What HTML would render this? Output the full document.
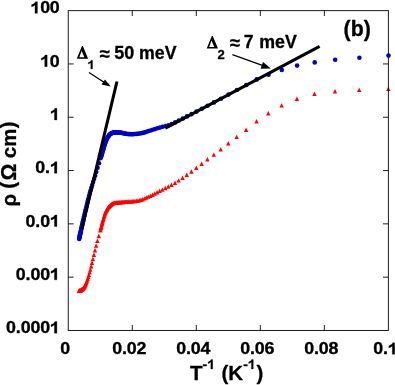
<!DOCTYPE html>
<html><head><meta charset="utf-8"><title>chart</title>
<style>
html,body{margin:0;padding:0;background:#fff;}
body{width:395px;height:385px;overflow:hidden;}
svg{display:block;will-change:transform;font-family:"Liberation Sans",sans-serif;font-weight:bold;fill:#000;}
text{stroke:#000;stroke-width:0.3px;stroke-linejoin:round;}
</style></head><body>
<svg width="395" height="385" viewBox="0 0 395 385">
<rect x="0" y="0" width="395" height="385" fill="#fff"/>
<g fill="#0000cc">
<circle cx="79.2" cy="239.0" r="2.3"/>
<circle cx="79.3" cy="238.1" r="2.3"/>
<circle cx="79.5" cy="237.2" r="2.3"/>
<circle cx="79.7" cy="236.3" r="2.3"/>
<circle cx="79.9" cy="235.3" r="2.3"/>
<circle cx="80.1" cy="234.3" r="2.3"/>
<circle cx="80.4" cy="233.3" r="2.3"/>
<circle cx="80.6" cy="232.2" r="2.3"/>
<circle cx="80.8" cy="231.2" r="2.3"/>
<circle cx="81.0" cy="230.1" r="2.3"/>
<circle cx="81.3" cy="228.9" r="2.3"/>
<circle cx="81.6" cy="227.8" r="2.3"/>
<circle cx="81.8" cy="226.6" r="2.3"/>
<circle cx="82.1" cy="225.3" r="2.3"/>
<circle cx="82.4" cy="224.0" r="2.3"/>
<circle cx="82.7" cy="222.6" r="2.3"/>
<circle cx="83.0" cy="221.2" r="2.3"/>
<circle cx="83.4" cy="219.7" r="2.3"/>
<circle cx="83.7" cy="218.1" r="2.3"/>
<circle cx="84.1" cy="216.5" r="2.3"/>
<circle cx="84.5" cy="214.8" r="2.3"/>
<circle cx="84.9" cy="213.0" r="2.3"/>
<circle cx="85.3" cy="211.2" r="2.3"/>
<circle cx="85.8" cy="209.2" r="2.3"/>
<circle cx="86.3" cy="207.2" r="2.3"/>
<circle cx="86.8" cy="205.1" r="2.3"/>
<circle cx="87.3" cy="202.9" r="2.3"/>
<circle cx="87.9" cy="200.6" r="2.3"/>
<circle cx="88.5" cy="198.2" r="2.3"/>
<circle cx="89.1" cy="195.7" r="2.3"/>
<circle cx="89.8" cy="193.1" r="2.3"/>
<circle cx="90.6" cy="190.5" r="2.3"/>
<circle cx="91.4" cy="187.7" r="2.3"/>
<circle cx="92.2" cy="185.0" r="2.3"/>
<circle cx="93.1" cy="182.1" r="2.3"/>
<circle cx="94.1" cy="179.1" r="2.3"/>
<circle cx="95.2" cy="175.8" r="2.3"/>
<circle cx="96.3" cy="172.0" r="2.3"/>
<circle cx="97.6" cy="167.8" r="2.3"/>
<circle cx="99.0" cy="163.2" r="2.3"/>
<circle cx="100.5" cy="158.3" r="2.3"/>
<circle cx="100.8" cy="157.3" r="2.3"/>
<circle cx="101.2" cy="156.3" r="2.3"/>
<circle cx="101.5" cy="155.2" r="2.3"/>
<circle cx="101.8" cy="154.2" r="2.3"/>
<circle cx="102.2" cy="153.1" r="2.3"/>
<circle cx="102.5" cy="152.0" r="2.3"/>
<circle cx="102.9" cy="150.8" r="2.3"/>
<circle cx="103.3" cy="149.5" r="2.3"/>
<circle cx="103.7" cy="148.1" r="2.3"/>
<circle cx="104.1" cy="146.7" r="2.3"/>
<circle cx="104.5" cy="145.3" r="2.3"/>
<circle cx="104.9" cy="144.0" r="2.3"/>
<circle cx="105.3" cy="142.8" r="2.3"/>
<circle cx="105.7" cy="141.7" r="2.3"/>
<circle cx="106.1" cy="140.6" r="2.3"/>
<circle cx="106.6" cy="139.5" r="2.3"/>
<circle cx="107.1" cy="138.6" r="2.3"/>
<circle cx="107.5" cy="137.7" r="2.3"/>
<circle cx="108.0" cy="136.9" r="2.3"/>
<circle cx="108.5" cy="136.2" r="2.3"/>
<circle cx="109.0" cy="135.4" r="2.3"/>
<circle cx="109.5" cy="134.7" r="2.3"/>
<circle cx="110.1" cy="134.2" r="2.3"/>
<circle cx="110.6" cy="133.8" r="2.3"/>
<circle cx="111.2" cy="133.5" r="2.3"/>
<circle cx="111.7" cy="133.2" r="2.3"/>
<circle cx="112.3" cy="132.9" r="2.3"/>
<circle cx="112.9" cy="132.7" r="2.3"/>
<circle cx="113.6" cy="132.5" r="2.3"/>
<circle cx="114.2" cy="132.4" r="2.3"/>
<circle cx="114.9" cy="132.4" r="2.3"/>
<circle cx="115.6" cy="132.4" r="2.3"/>
<circle cx="116.3" cy="132.4" r="2.3"/>
<circle cx="117.0" cy="132.4" r="2.3"/>
<circle cx="117.7" cy="132.5" r="2.3"/>
<circle cx="118.5" cy="132.5" r="2.3"/>
<circle cx="119.3" cy="132.6" r="2.3"/>
<circle cx="120.1" cy="132.6" r="2.3"/>
<circle cx="121.0" cy="132.7" r="2.3"/>
<circle cx="121.8" cy="132.9" r="2.3"/>
<circle cx="122.7" cy="133.1" r="2.3"/>
<circle cx="123.7" cy="133.3" r="2.3"/>
<circle cx="124.6" cy="133.6" r="2.3"/>
<circle cx="125.6" cy="133.8" r="2.3"/>
<circle cx="126.7" cy="133.9" r="2.3"/>
<circle cx="127.8" cy="134.0" r="2.3"/>
<circle cx="128.9" cy="134.1" r="2.3"/>
<circle cx="130.0" cy="134.1" r="2.3"/>
<circle cx="131.2" cy="134.2" r="2.3"/>
<circle cx="132.5" cy="134.2" r="2.3"/>
<circle cx="133.8" cy="134.1" r="2.3"/>
<circle cx="135.2" cy="134.0" r="2.3"/>
<circle cx="136.6" cy="133.9" r="2.3"/>
<circle cx="138.1" cy="133.7" r="2.3"/>
<circle cx="139.6" cy="133.5" r="2.3"/>
<circle cx="141.2" cy="133.2" r="2.3"/>
<circle cx="142.9" cy="132.9" r="2.3"/>
<circle cx="144.7" cy="132.4" r="2.3"/>
<circle cx="146.5" cy="131.8" r="2.3"/>
<circle cx="148.5" cy="131.1" r="2.3"/>
<circle cx="150.6" cy="130.5" r="2.3"/>
<circle cx="152.7" cy="129.8" r="2.3"/>
<circle cx="155.0" cy="129.1" r="2.3"/>
<circle cx="157.4" cy="128.3" r="2.3"/>
<circle cx="159.9" cy="127.6" r="2.3"/>
<circle cx="162.6" cy="126.8" r="2.3"/>
<circle cx="165.5" cy="126.1" r="2.3"/>
<circle cx="168.5" cy="125.3" r="2.3"/>
<circle cx="171.7" cy="124.1" r="2.3"/>
<circle cx="175.2" cy="122.4" r="2.3"/>
<circle cx="178.8" cy="120.5" r="2.3"/>
<circle cx="182.8" cy="118.5" r="2.3"/>
<circle cx="187.0" cy="116.4" r="2.3"/>
<circle cx="191.6" cy="114.1" r="2.3"/>
<circle cx="196.5" cy="111.6" r="2.3"/>
<circle cx="201.8" cy="108.8" r="2.3"/>
<circle cx="207.6" cy="105.8" r="2.3"/>
<circle cx="214.0" cy="102.4" r="2.3"/>
<circle cx="220.9" cy="98.7" r="2.3"/>
<circle cx="228.5" cy="94.6" r="2.3"/>
<circle cx="236.9" cy="90.0" r="2.3"/>
<circle cx="246.3" cy="85.0" r="2.3"/>
<circle cx="256.7" cy="79.4" r="2.3"/>
<circle cx="268.5" cy="74.7" r="2.3"/>
<circle cx="281.8" cy="70.0" r="2.3"/>
<circle cx="297.1" cy="65.6" r="2.3"/>
<circle cx="314.7" cy="62.4" r="2.3"/>
<circle cx="335.2" cy="59.7" r="2.3"/>
<circle cx="359.4" cy="57.7" r="2.3"/>
<circle cx="388.5" cy="55.6" r="2.3"/>
</g>
<g fill="#ff0000">
<path d="M79.0 288.5L81.2 292.9H76.8Z"/>
<path d="M79.1 288.5L81.3 292.9H76.9Z"/>
<path d="M79.3 288.4L81.5 292.9H77.1Z"/>
<path d="M79.5 288.4L81.7 292.8H77.3Z"/>
<path d="M79.7 288.3L81.9 292.8H77.5Z"/>
<path d="M79.9 288.3L82.1 292.7H77.7Z"/>
<path d="M80.2 288.2L82.4 292.7H78.0Z"/>
<path d="M80.4 288.1L82.6 292.6H78.2Z"/>
<path d="M80.6 288.0L82.8 292.4H78.4Z"/>
<path d="M80.8 287.9L83.0 292.3H78.6Z"/>
<path d="M81.1 287.7L83.3 292.2H78.9Z"/>
<path d="M81.4 287.6L83.6 292.0H79.2Z"/>
<path d="M81.6 287.4L83.8 291.8H79.4Z"/>
<path d="M81.9 287.2L84.1 291.6H79.7Z"/>
<path d="M82.2 287.0L84.4 291.4H80.0Z"/>
<path d="M82.5 286.7L84.7 291.2H80.3Z"/>
<path d="M82.8 286.5L85.0 290.9H80.6Z"/>
<path d="M83.2 286.2L85.4 290.6H81.0Z"/>
<path d="M83.5 285.9L85.7 290.3H81.3Z"/>
<path d="M83.9 285.4L86.1 289.8H81.7Z"/>
<path d="M84.3 284.8L86.5 289.2H82.1Z"/>
<path d="M84.7 284.0L86.9 288.4H82.5Z"/>
<path d="M85.1 283.1L87.3 287.5H82.9Z"/>
<path d="M85.6 282.1L87.8 286.5H83.4Z"/>
<path d="M86.1 281.0L88.3 285.5H83.9Z"/>
<path d="M86.6 279.8L88.8 284.3H84.4Z"/>
<path d="M87.1 278.4L89.3 282.8H84.9Z"/>
<path d="M87.7 276.8L89.9 281.2H85.5Z"/>
<path d="M88.3 274.9L90.5 279.3H86.1Z"/>
<path d="M88.9 272.7L91.1 277.1H86.7Z"/>
<path d="M89.6 270.1L91.8 274.5H87.4Z"/>
<path d="M90.4 267.2L92.6 271.7H88.2Z"/>
<path d="M91.2 264.1L93.4 268.5H89.0Z"/>
<path d="M92.0 260.5L94.2 265.0H89.8Z"/>
<path d="M92.9 256.7L95.1 261.2H90.7Z"/>
<path d="M93.9 252.6L96.1 257.0H91.7Z"/>
<path d="M95.0 248.1L97.2 252.6H92.8Z"/>
<path d="M96.1 243.4L98.3 247.8H93.9Z"/>
<path d="M97.4 238.5L99.6 243.0H95.2Z"/>
<path d="M98.8 233.7L101.0 238.2H96.6Z"/>
<path d="M100.3 228.1L102.5 232.6H98.1Z"/>
<path d="M100.6 226.9L102.8 231.4H98.4Z"/>
<path d="M101.0 225.7L103.2 230.1H98.8Z"/>
<path d="M101.3 224.4L103.5 228.9H99.1Z"/>
<path d="M101.6 223.1L103.8 227.6H99.4Z"/>
<path d="M102.0 221.8L104.2 226.3H99.8Z"/>
<path d="M102.3 220.5L104.5 224.9H100.1Z"/>
<path d="M102.7 219.1L104.9 223.5H100.5Z"/>
<path d="M103.1 217.6L105.3 222.1H100.9Z"/>
<path d="M103.5 216.2L105.7 220.7H101.3Z"/>
<path d="M103.9 214.8L106.1 219.3H101.7Z"/>
<path d="M104.3 213.5L106.5 217.9H102.1Z"/>
<path d="M104.7 212.2L106.9 216.7H102.5Z"/>
<path d="M105.1 211.1L107.3 215.6H102.9Z"/>
<path d="M105.5 210.1L107.7 214.6H103.3Z"/>
<path d="M105.9 209.2L108.1 213.7H103.7Z"/>
<path d="M106.4 208.3L108.6 212.7H104.2Z"/>
<path d="M106.9 207.4L109.1 211.9H104.7Z"/>
<path d="M107.3 206.6L109.5 211.1H105.1Z"/>
<path d="M107.8 205.8L110.0 210.3H105.6Z"/>
<path d="M108.3 205.1L110.5 209.6H106.1Z"/>
<path d="M108.8 204.5L111.0 209.0H106.6Z"/>
<path d="M109.3 204.0L111.5 208.4H107.1Z"/>
<path d="M109.9 203.5L112.1 207.9H107.7Z"/>
<path d="M110.4 202.9L112.6 207.4H108.2Z"/>
<path d="M111.0 202.5L113.2 206.9H108.8Z"/>
<path d="M111.5 202.0L113.7 206.4H109.3Z"/>
<path d="M112.1 201.6L114.3 206.0H109.9Z"/>
<path d="M112.7 201.2L114.9 205.6H110.5Z"/>
<path d="M113.4 200.9L115.6 205.3H111.2Z"/>
<path d="M114.0 200.7L116.2 205.1H111.8Z"/>
<path d="M114.7 200.5L116.9 205.0H112.5Z"/>
<path d="M115.4 200.4L117.6 204.9H113.2Z"/>
<path d="M116.1 200.3L118.3 204.8H113.9Z"/>
<path d="M116.8 200.2L119.0 204.7H114.6Z"/>
<path d="M117.5 200.2L119.7 204.6H115.3Z"/>
<path d="M118.3 200.1L120.5 204.5H116.1Z"/>
<path d="M119.1 200.0L121.3 204.5H116.9Z"/>
<path d="M119.9 200.0L122.1 204.4H117.7Z"/>
<path d="M120.8 199.9L123.0 204.3H118.6Z"/>
<path d="M121.6 199.8L123.8 204.3H119.4Z"/>
<path d="M122.5 199.8L124.7 204.2H120.3Z"/>
<path d="M123.5 199.7L125.7 204.2H121.3Z"/>
<path d="M124.4 199.6L126.6 204.1H122.2Z"/>
<path d="M125.4 199.5L127.6 204.0H123.2Z"/>
<path d="M126.5 199.5L128.7 203.9H124.3Z"/>
<path d="M127.6 199.4L129.8 203.8H125.4Z"/>
<path d="M128.7 199.3L130.9 203.7H126.5Z"/>
<path d="M129.8 199.2L132.0 203.7H127.6Z"/>
<path d="M131.0 199.1L133.2 203.6H128.8Z"/>
<path d="M132.3 199.0L134.5 203.5H130.1Z"/>
<path d="M133.6 198.9L135.8 203.3H131.4Z"/>
<path d="M135.0 198.8L137.2 203.2H132.8Z"/>
<path d="M136.4 198.6L138.6 203.0H134.2Z"/>
<path d="M137.9 198.4L140.1 202.8H135.7Z"/>
<path d="M139.4 198.1L141.6 202.5H137.2Z"/>
<path d="M141.0 197.6L143.2 202.0H138.8Z"/>
<path d="M142.7 196.9L144.9 201.4H140.5Z"/>
<path d="M144.5 196.2L146.7 200.6H142.3Z"/>
<path d="M146.3 195.3L148.5 199.8H144.1Z"/>
<path d="M148.3 194.4L150.5 198.8H146.1Z"/>
<path d="M150.4 193.5L152.6 197.9H148.2Z"/>
<path d="M152.5 192.4L154.7 196.9H150.3Z"/>
<path d="M154.8 191.3L157.0 195.7H152.6Z"/>
<path d="M157.2 190.0L159.4 194.4H155.0Z"/>
<path d="M159.7 188.6L161.9 193.1H157.5Z"/>
<path d="M162.4 187.3L164.6 191.7H160.2Z"/>
<path d="M165.3 185.8L167.5 190.2H163.1Z"/>
<path d="M168.3 184.2L170.5 188.7H166.1Z"/>
<path d="M171.5 182.5L173.7 186.9H169.3Z"/>
<path d="M175.0 180.5L177.2 185.0H172.8Z"/>
<path d="M178.6 178.2L180.8 182.6H176.4Z"/>
<path d="M182.6 175.5L184.8 180.0H180.4Z"/>
<path d="M186.8 172.6L189.0 177.0H184.6Z"/>
<path d="M191.4 169.3L193.6 173.8H189.2Z"/>
<path d="M196.3 165.6L198.5 170.0H194.1Z"/>
<path d="M201.6 161.5L203.8 165.9H199.4Z"/>
<path d="M207.4 157.1L209.6 161.6H205.2Z"/>
<path d="M213.8 152.4L216.0 156.8H211.6Z"/>
<path d="M220.7 147.0L222.9 151.4H218.5Z"/>
<path d="M228.3 141.0L230.5 145.5H226.1Z"/>
<path d="M236.7 134.7L238.9 139.1H234.5Z"/>
<path d="M246.1 127.5L248.3 132.0H243.9Z"/>
<path d="M256.5 119.0L258.7 123.4H254.3Z"/>
<path d="M268.3 111.0L270.5 115.5H266.1Z"/>
<path d="M281.6 103.2L283.8 107.6H279.4Z"/>
<path d="M296.9 96.4L299.1 100.9H294.7Z"/>
<path d="M314.5 91.6L316.7 96.1H312.3Z"/>
<path d="M335.0 89.0L337.2 93.5H332.8Z"/>
<path d="M359.2 87.7L361.4 92.1H357.0Z"/>
<path d="M388.3 86.7L390.5 91.1H386.1Z"/>
</g>
<g stroke="#000" stroke-width="3.05" fill="none" stroke-linecap="butt">
<line x1="81.75" y1="229.3" x2="116.95" y2="81.5"/>
<line x1="165.4" y1="128.1" x2="319.6" y2="46.3"/>
</g>
<rect x="68.25" y="10.62" width="320.15" height="319.85" fill="none" stroke="#1a1a1a" stroke-width="1"/>
<path d="M68.25 63.93h5.4M388.4 63.93h-5.4M68.25 117.24h5.4M388.4 117.24h-5.4M68.25 170.55h5.4M388.4 170.55h-5.4M68.25 223.85h5.4M388.4 223.85h-5.4M68.25 277.16h5.4M388.4 277.16h-5.4M132.28 10.62v5.4M132.28 330.47v-5.4M196.31 10.62v5.4M196.31 330.47v-5.4M260.34 10.62v5.4M260.34 330.47v-5.4M324.37 10.62v5.4M324.37 330.47v-5.4" stroke="#111" stroke-width="0.95" fill="none"/>
<g>
<g transform="translate(30.51,13.32)"><path transform="translate(-0.10,0) scale(17.871,16.100)" d="M0.393 0H0.256V-0.517C0.2 -0.46 0.13 -0.425 0.064 -0.404V-0.529C0.11 -0.545 0.16 -0.57 0.2 -0.605C0.245 -0.64 0.27 -0.68 0.282 -0.719H0.393Z" stroke="#000" stroke-width="0.018"/><text transform="translate(9.63,0) scale(1.11,1)" font-size="16.1px">0</text><text transform="translate(19.36,0) scale(1.11,1)" font-size="16.1px">0</text></g>
<g transform="translate(40.24,66.63)"><path transform="translate(-0.10,0) scale(17.871,16.100)" d="M0.393 0H0.256V-0.517C0.2 -0.46 0.13 -0.425 0.064 -0.404V-0.529C0.11 -0.545 0.16 -0.57 0.2 -0.605C0.245 -0.64 0.27 -0.68 0.282 -0.719H0.393Z" stroke="#000" stroke-width="0.018"/><text transform="translate(9.63,0) scale(1.11,1)" font-size="16.1px">0</text></g>
<g transform="translate(49.97,119.94)"><path transform="translate(-0.10,0) scale(17.871,16.100)" d="M0.393 0H0.256V-0.517C0.2 -0.46 0.13 -0.425 0.064 -0.404V-0.529C0.11 -0.545 0.16 -0.57 0.2 -0.605C0.245 -0.64 0.27 -0.68 0.282 -0.719H0.393Z" stroke="#000" stroke-width="0.018"/></g>
<g transform="translate(35.38,173.25)"><text transform="translate(-0.10,0) scale(1.11,1)" font-size="16.1px">0</text><text transform="translate(9.68,0) scale(1.11,1)" font-size="16.1px">.</text><path transform="translate(14.49,0) scale(17.871,16.100)" d="M0.393 0H0.256V-0.517C0.2 -0.46 0.13 -0.425 0.064 -0.404V-0.529C0.11 -0.545 0.16 -0.57 0.2 -0.605C0.245 -0.64 0.27 -0.68 0.282 -0.719H0.393Z" stroke="#000" stroke-width="0.018"/></g>
<g transform="translate(25.65,226.55)"><text transform="translate(-0.10,0) scale(1.11,1)" font-size="16.1px">0</text><text transform="translate(9.68,0) scale(1.11,1)" font-size="16.1px">.</text><text transform="translate(14.49,0) scale(1.11,1)" font-size="16.1px">0</text><path transform="translate(24.22,0) scale(17.871,16.100)" d="M0.393 0H0.256V-0.517C0.2 -0.46 0.13 -0.425 0.064 -0.404V-0.529C0.11 -0.545 0.16 -0.57 0.2 -0.605C0.245 -0.64 0.27 -0.68 0.282 -0.719H0.393Z" stroke="#000" stroke-width="0.018"/></g>
<g transform="translate(15.91,279.86)"><text transform="translate(-0.10,0) scale(1.11,1)" font-size="16.1px">0</text><text transform="translate(9.68,0) scale(1.11,1)" font-size="16.1px">.</text><text transform="translate(14.49,0) scale(1.11,1)" font-size="16.1px">0</text><text transform="translate(24.22,0) scale(1.11,1)" font-size="16.1px">0</text><path transform="translate(33.95,0) scale(17.871,16.100)" d="M0.393 0H0.256V-0.517C0.2 -0.46 0.13 -0.425 0.064 -0.404V-0.529C0.11 -0.545 0.16 -0.57 0.2 -0.605C0.245 -0.64 0.27 -0.68 0.282 -0.719H0.393Z" stroke="#000" stroke-width="0.018"/></g>
<g transform="translate(6.18,333.17)"><text transform="translate(-0.10,0) scale(1.11,1)" font-size="16.1px">0</text><text transform="translate(9.68,0) scale(1.11,1)" font-size="16.1px">.</text><text transform="translate(14.49,0) scale(1.11,1)" font-size="16.1px">0</text><text transform="translate(24.22,0) scale(1.11,1)" font-size="16.1px">0</text><text transform="translate(33.95,0) scale(1.11,1)" font-size="16.1px">0</text><path transform="translate(43.68,0) scale(17.871,16.100)" d="M0.393 0H0.256V-0.517C0.2 -0.46 0.13 -0.425 0.064 -0.404V-0.529C0.11 -0.545 0.16 -0.57 0.2 -0.605C0.245 -0.64 0.27 -0.68 0.282 -0.719H0.393Z" stroke="#000" stroke-width="0.018"/></g>
<g transform="translate(60.38,354.30)"><text transform="translate(-0.10,0) scale(1.11,1)" font-size="16.1px">0</text></g>
<g transform="translate(112.25,354.30)"><text transform="translate(-0.10,0) scale(1.11,1)" font-size="16.1px">0</text><text transform="translate(9.68,0) scale(1.11,1)" font-size="16.1px">.</text><text transform="translate(14.49,0) scale(1.11,1)" font-size="16.1px">0</text><text transform="translate(24.22,0) scale(1.11,1)" font-size="16.1px">2</text></g>
<g transform="translate(176.28,354.30)"><text transform="translate(-0.10,0) scale(1.11,1)" font-size="16.1px">0</text><text transform="translate(9.68,0) scale(1.11,1)" font-size="16.1px">.</text><text transform="translate(14.49,0) scale(1.11,1)" font-size="16.1px">0</text><text transform="translate(24.22,0) scale(1.11,1)" font-size="16.1px">4</text></g>
<g transform="translate(240.31,354.30)"><text transform="translate(-0.10,0) scale(1.11,1)" font-size="16.1px">0</text><text transform="translate(9.68,0) scale(1.11,1)" font-size="16.1px">.</text><text transform="translate(14.49,0) scale(1.11,1)" font-size="16.1px">0</text><text transform="translate(24.22,0) scale(1.11,1)" font-size="16.1px">6</text></g>
<g transform="translate(304.34,354.30)"><text transform="translate(-0.10,0) scale(1.11,1)" font-size="16.1px">0</text><text transform="translate(9.68,0) scale(1.11,1)" font-size="16.1px">.</text><text transform="translate(14.49,0) scale(1.11,1)" font-size="16.1px">0</text><text transform="translate(24.22,0) scale(1.11,1)" font-size="16.1px">8</text></g>
<g transform="translate(373.24,354.30)"><text transform="translate(-0.10,0) scale(1.11,1)" font-size="16.1px">0</text><text transform="translate(9.68,0) scale(1.11,1)" font-size="16.1px">.</text><path transform="translate(14.49,0) scale(17.871,16.100)" d="M0.393 0H0.256V-0.517C0.2 -0.46 0.13 -0.425 0.064 -0.404V-0.529C0.11 -0.545 0.16 -0.57 0.2 -0.605C0.245 -0.64 0.27 -0.68 0.282 -0.719H0.393Z" stroke="#000" stroke-width="0.018"/></g>
</g>
<g>
<path fill-rule="evenodd" d="M76.80 58.80L81.95 46.10H82.85L88.10 58.80ZM79.30 57.20H84.40L81.60 50.80Z"/><path transform="translate(87.4,68.9) scale(13.090,11.900)" d="M0.393 0H0.256V-0.517C0.2 -0.46 0.13 -0.425 0.064 -0.404V-0.529C0.11 -0.545 0.16 -0.57 0.2 -0.605C0.245 -0.64 0.27 -0.68 0.282 -0.719H0.393Z" stroke="#000" stroke-width="0.018"/><text transform="translate(99.5,60.2) scale(1.0,1)" font-size="18.6px">≈</text><text transform="translate(114.3,58.9) scale(1.03,1)" font-size="17.5px">50</text><text transform="translate(139.1,58.9) scale(1.012,1)" font-size="17.5px">meV</text><path fill-rule="evenodd" d="M206.70 48.60L211.85 35.90H212.75L218.00 48.60ZM209.20 47.00H214.30L211.50 40.60Z"/><text transform="translate(217.6,58.9) scale(1.1,1)" font-size="11.9px">2</text><text transform="translate(229.7,49.0) scale(1.0,1)" font-size="18.6px">≈</text><text transform="translate(243.7,47.5) scale(1.0,1)" font-size="17.5px">7</text><text transform="translate(259.3,47.5) scale(1.015,1)" font-size="17.5px">meV</text>
</g>
<g stroke="#000" stroke-width="1.3" fill="#000">
<line x1="89" y1="72.5" x2="104" y2="82.2"/>
<path d="M110.8 86.6L105 79.5L101.5 84.6Z" stroke="none"/>
<line x1="232.4" y1="54.7" x2="263" y2="65.7"/>
<path d="M270.8 68.5L263 61.9L260.6 68.7Z" stroke="none"/>
</g>
<text transform="translate(343.6,35.8) scale(1.0,1)" font-size="21.3px">(b)</text>
<g>
<text transform="translate(190,380) scale(1.01,1)" font-size="20.3px">T</text><text transform="translate(202.6,368.9) scale(1.06,1)" font-size="13.2px">-</text><path transform="translate(207.2,368.9) scale(13.992,13.200)" d="M0.393 0H0.256V-0.517C0.2 -0.46 0.13 -0.425 0.064 -0.404V-0.529C0.11 -0.545 0.16 -0.57 0.2 -0.605C0.245 -0.64 0.27 -0.68 0.282 -0.719H0.393Z" stroke="#000" stroke-width="0.018"/><text transform="translate(221.5,380) scale(1.01,1)" font-size="20.3px">(K</text><text transform="translate(243.2,368.9) scale(1.06,1)" font-size="13.2px">-</text><path transform="translate(247.8,368.9) scale(13.992,13.200)" d="M0.393 0H0.256V-0.517C0.2 -0.46 0.13 -0.425 0.064 -0.404V-0.529C0.11 -0.545 0.16 -0.57 0.2 -0.605C0.245 -0.64 0.27 -0.68 0.282 -0.719H0.393Z" stroke="#000" stroke-width="0.018"/><text transform="translate(256.6,380) scale(1.01,1)" font-size="20.3px">)</text>
</g>
<text transform="translate(15.3,206.4) rotate(-90)" font-size="20.4px"><tspan dy="1.1">ρ</tspan><tspan dx="-0.7" dy="-1.1"> (</tspan><tspan dx="1.4" dy="1.1" font-size="21.2px">Ω</tspan><tspan dx="-0.2"> cm</tspan><tspan dx="0.5" dy="-1.1">)</tspan></text>
</svg>
</body></html>
